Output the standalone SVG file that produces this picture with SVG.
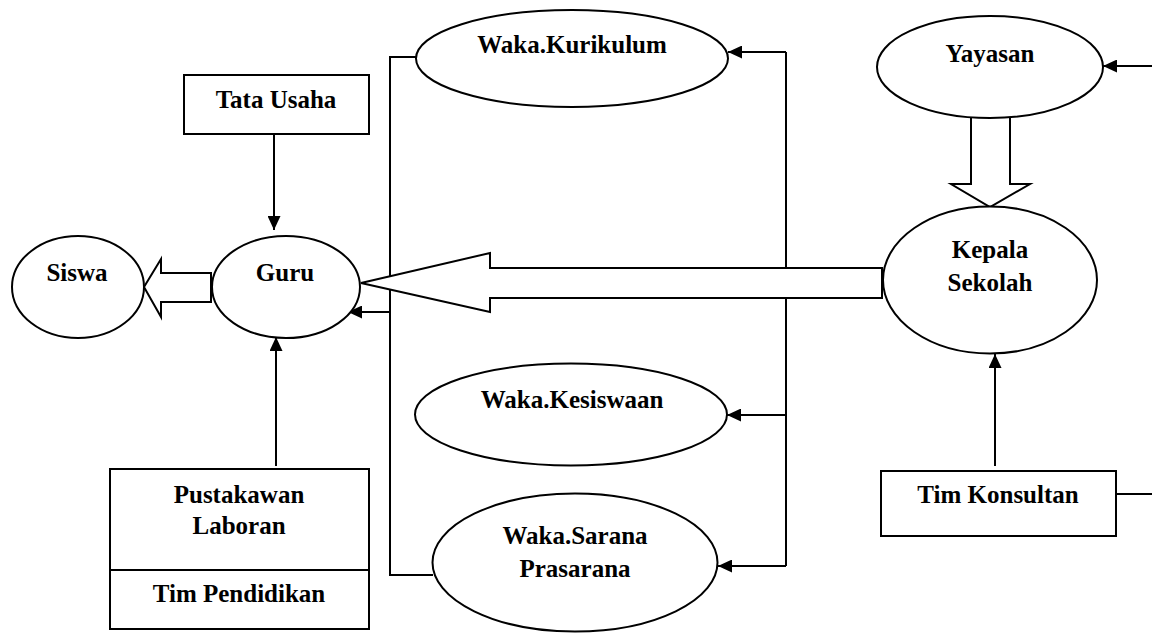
<svg xmlns="http://www.w3.org/2000/svg" width="1152" height="633" viewBox="0 0 1152 633">
<style>
.n{fill:#fff;stroke:#000;stroke-width:2}
.c{fill:none;stroke:#000;stroke-width:2}
.h{fill:#fff;stroke:#000;stroke-width:2;stroke-linejoin:miter}
.t{font-family:"Liberation Serif","Times New Roman",serif;font-weight:bold;font-size:25px;fill:#000;text-anchor:middle}
</style>
<defs>
<marker id="ah" markerUnits="userSpaceOnUse" markerWidth="14" markerHeight="13" refX="14" refY="6.5" orient="auto">
<path d="M0,0 L14,6.5 L0,13 z" fill="#000"/>
</marker>
</defs>
<rect width="1152" height="633" fill="#fff"/>
<g id="connectors">
<path class="c" d="M274,134 V230" marker-end="url(#ah)"/>
<path class="c" d="M276,466 V337" marker-end="url(#ah)"/>
<path class="c" d="M417,57 H390 V575 H433"/>
<path class="c" d="M390,312 H348" marker-end="url(#ah)"/>
<path class="c" d="M786,52 V566"/>
<path class="c" d="M786,52 H728" marker-end="url(#ah)"/>
<path class="c" d="M786,415 H727" marker-end="url(#ah)"/>
<path class="c" d="M786,566 H718" marker-end="url(#ah)"/>
<path class="c" d="M1152,66 H1103" marker-end="url(#ah)"/>
<path class="c" d="M995,466 V354" marker-end="url(#ah)"/>
<path class="c" d="M1116,494 H1152"/>
<polygon class="h" points="361,283 490,253 490,268 882,268 882,298 490,298 490,312"/>
<polygon class="h" points="211,273 161,273 161,259 144,287 161,317 161,302 211,302"/>
<polygon class="h" points="971,116 971,184 951,184 990,207 1030,184 1010,184 1010,116"/>
</g>
<g id="siswa"><ellipse class="n" cx="78" cy="287" rx="66" ry="51"/><text class="t" x="77" y="281">Siswa</text></g>
<g id="guru"><ellipse class="n" cx="286" cy="287" rx="74" ry="51"/><text class="t" x="285" y="281">Guru</text></g>
<g id="tata-usaha"><rect class="n" x="184" y="75" width="185" height="59"/><text class="t" x="276" y="108">Tata Usaha</text></g>
<g id="waka-kurikulum"><ellipse class="n" cx="572" cy="58.5" rx="156" ry="48.5"/><text class="t" x="572" y="53">Waka.Kurikulum</text></g>
<g id="yayasan"><ellipse class="n" cx="990" cy="67" rx="113" ry="51"/><text class="t" x="990" y="62">Yayasan</text></g>
<g id="kepala-sekolah"><ellipse class="n" cx="990" cy="280" rx="107" ry="73.5"/><text class="t" x="990" y="258">Kepala</text><text class="t" x="990" y="291">Sekolah</text></g>
<g id="waka-kesiswaan"><ellipse class="n" cx="571" cy="414.5" rx="156" ry="51"/><text class="t" x="572" y="408">Waka.Kesiswaan</text></g>
<g id="waka-sarana"><ellipse class="n" cx="575" cy="562.5" rx="142.5" ry="69"/><text class="t" x="575" y="544">Waka.Sarana</text><text class="t" x="575" y="577">Prasarana</text></g>
<g id="pustakawan"><rect class="n" x="110" y="469" width="259" height="101"/><text class="t" x="239" y="503">Pustakawan</text><text class="t" x="239" y="534">Laboran</text></g>
<g id="tim-pendidikan"><rect class="n" x="110" y="570" width="259" height="59"/><text class="t" x="239" y="602">Tim Pendidikan</text></g>
<g id="tim-konsultan"><rect class="n" x="881" y="471" width="235" height="65"/><text class="t" x="998" y="503">Tim Konsultan</text></g>
</svg>
